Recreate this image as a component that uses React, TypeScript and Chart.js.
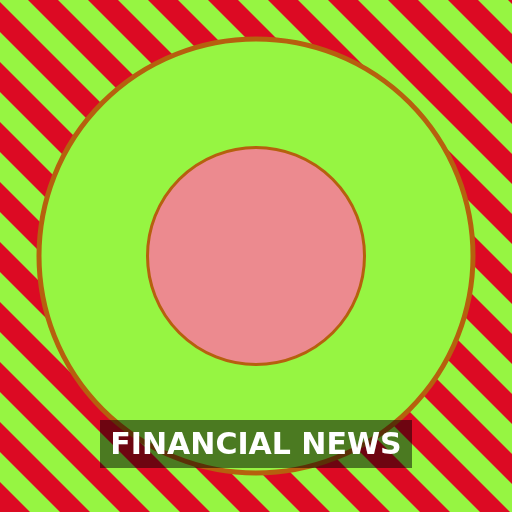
import React, { useEffect, useRef } from "react";
import { Chart, registerables } from "chart.js";

Chart.register(...registerables);

const ringLabels = ["Outer ring"];
const outerValues = [1];
const innerLabels = ["Core"];
const innerValues = [1];
const titleText = "FINANCIAL NEWS";

const GREEN = "#96F542";
const RED = "#DC0A23";
const PINK = "#EC8A8F";
const BORDER = "#B6600E";

const stripePlugin = {
  id: "stripes",
  beforeDraw(chart: any) {
    const ctx = chart.ctx;
    const w = chart.width;
    const h = chart.height;
    ctx.save();
    ctx.fillStyle = GREEN;
    ctx.fillRect(0, 0, w, h);
    ctx.fillStyle = RED;
    for (let k = -12; k <= 12; k++) {
      const c1 = 28 + 60 * k;
      const c2 = c1 + 30;
      ctx.beginPath();
      ctx.moveTo(c1, 0);
      ctx.lineTo(c2, 0);
      ctx.lineTo(c2 + h, h);
      ctx.lineTo(c1 + h, h);
      ctx.closePath();
      ctx.fill();
    }
    ctx.restore();
  },
};

const ringBorderPlugin = {
  id: "ringBorders",
  afterDatasetsDraw(chart: any) {
    const ctx = chart.ctx;
    const widths = [5, 3];
    chart.data.datasets.forEach((_: any, i: number) => {
      const meta = chart.getDatasetMeta(i);
      meta.data.forEach((arc: any) => {
        const { x, y, outerRadius } = arc.getProps(["x", "y", "outerRadius"], true);
        ctx.save();
        ctx.strokeStyle = BORDER;
        ctx.lineWidth = widths[i] || 3;
        ctx.beginPath();
        ctx.arc(x, y, outerRadius, 0, Math.PI * 2);
        ctx.stroke();
        ctx.restore();
      });
    });
  },
};

export default function App() {
  const ref = useRef<HTMLCanvasElement | null>(null);

  useEffect(() => {
    document.body.style.margin = "0";
    const canvas = ref.current;
    if (!canvas) return;
    const chart = new Chart(canvas, {
      type: "pie",
      data: {
        labels: ringLabels,
        datasets: [
          {
            data: outerValues,
            backgroundColor: [GREEN],
            borderWidth: 0,
          },
          {
            data: innerValues,
            labels: innerLabels,
            backgroundColor: [PINK],
            borderWidth: 0,
          } as any,
        ],
      },
      options: {
        responsive: false,
        animation: false,
        layout: { padding: 39 },
        plugins: {
          legend: { display: false },
          tooltip: { enabled: false },
          title: { display: false },
        },
      },
      plugins: [stripePlugin, ringBorderPlugin],
    });
    return () => chart.destroy();
  }, []);

  return (
    <div style={{ position: "relative", width: 512, height: 512 }}>
      <canvas ref={ref} width={512} height={512} style={{ display: "block" }} />
      <div
        style={{
          position: "absolute",
          left: 100,
          top: 420,
          width: 312,
          height: 48,
          background: "rgba(0,0,0,0.5)",
          color: "#FFFFFF",
          fontFamily: "'DejaVu Sans', sans-serif",
          fontWeight: "bold",
          fontSize: 30,
          lineHeight: "48px",
          textAlign: "center",
          whiteSpace: "nowrap",
        }}
      >
        {titleText}
      </div>
    </div>
  );
}
